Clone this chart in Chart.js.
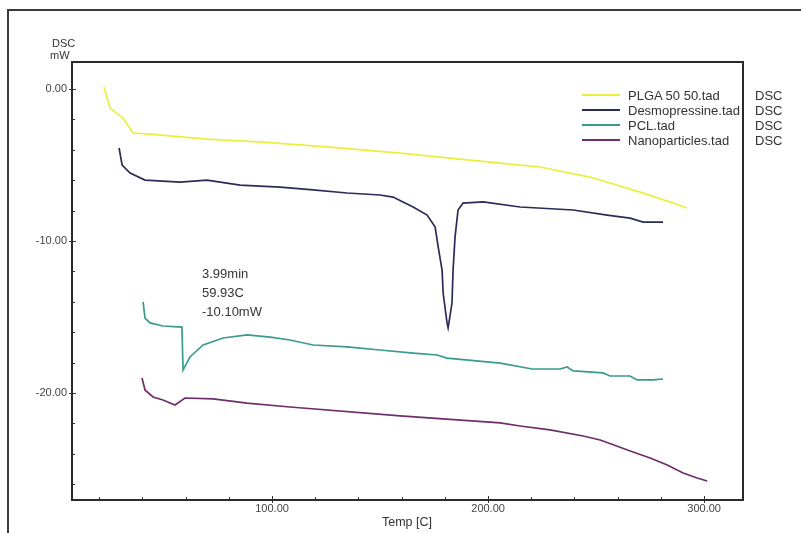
<!DOCTYPE html>
<html><head><meta charset="utf-8">
<script src="https://cdn.jsdelivr.net/npm/chart.js@4.4.1/dist/chart.umd.min.js"></script>
<style>
html,body{margin:0;padding:0;background:#fff;}
#wrap{position:relative;width:801px;height:533px;overflow:hidden;font-family:"Liberation Sans",Arial,sans-serif;color:#333;background:#fff;}
#frame{position:absolute;left:7px;top:9px;width:820px;height:560px;border-left:2px solid #3a3a3a;border-top:2px solid #3a3a3a;}
canvas{position:absolute;left:0;top:0;}
.t{position:absolute;white-space:nowrap;color:#333;}
.lg{position:absolute;height:2px;}
</style></head><body>
<div id="wrap">
<div id="frame"></div>
<canvas id="c" width="801" height="533"></canvas>
<div class="t" style="left:52px;top:37px;font-size:11px;line-height:12px">DSC</div>
<div class="t" style="left:50px;top:49px;font-size:11px;line-height:12px">mW</div>
<div class="t" style="left:382px;top:515px;font-size:12.5px;line-height:14px">Temp [C]</div>
<div id="anno"></div>
<div id="legend"></div>
</div>
<script>
// ---- data ----
const seriesNames = ["PLGA 50 50.tad", "Desmopressine.tad", "PCL.tad", "Nanoparticles.tad"];
const seriesUnit = "DSC";
const plgaT = [22.2, 25.0, 31.0, 35.6, 43.5, 69.9, 95.8, 126.9, 159.3, 187.0, 214.8, 224.1, 247.2, 270.4, 285.6, 292.1];
const plgaV = [0.13, -1.25, -1.91, -2.89, -2.96, -3.29, -3.49, -3.82, -4.21, -4.61, -5.0, -5.13, -5.79, -6.78, -7.5, -7.83];
const desmoT = [29.2, 30.6, 34.3, 41.2, 57.4, 69.9, 85.2, 103.7, 119.0, 134.7, 150.0, 156.0, 165.3, 171.8, 175.5, 176.9, 178.7, 179.2, 181.0, 181.5, 183.3, 183.8, 184.7, 186.1, 188.4, 197.7, 214.8, 239.4, 255.1, 265.7, 271.8, 281.0];
const desmoV = [-3.88, -5.0, -5.53, -5.99, -6.12, -5.99, -6.32, -6.45, -6.64, -6.84, -6.97, -7.11, -7.76, -8.29, -9.08, -10.39, -11.91, -13.42, -15.39, -15.72, -14.08, -11.91, -9.74, -7.96, -7.5, -7.43, -7.76, -7.96, -8.29, -8.49, -8.75, -8.75];
const pclT = [40.3, 41.2, 43.5, 49.5, 58.3, 58.8, 62.0, 68.1, 77.3, 88.4, 99.1, 108.3, 119.0, 134.7, 150.0, 165.3, 176.4, 181.0, 205.6, 220.4, 233.3, 236.6, 239.4, 253.2, 256.5, 265.7, 269.0, 276.4, 281.0];
const pclV = [-14.01, -15.07, -15.39, -15.59, -15.66, -18.49, -17.63, -16.84, -16.38, -16.18, -16.32, -16.51, -16.84, -16.97, -17.17, -17.37, -17.5, -17.7, -18.03, -18.42, -18.42, -18.29, -18.55, -18.68, -18.88, -18.88, -19.14, -19.14, -19.08];
const nanoT = [39.8, 41.2, 44.9, 49.5, 55.1, 59.7, 72.7, 88.4, 108.3, 159.3, 205.6, 214.8, 228.7, 244.0, 251.9, 267.1, 275.0, 282.9, 290.3, 296.8, 301.4];
const nanoV = [-19.01, -19.80, -20.26, -20.46, -20.79, -20.33, -20.39, -20.66, -20.92, -21.51, -21.97, -22.17, -22.43, -22.83, -23.09, -23.88, -24.28, -24.74, -25.26, -25.59, -25.79];
const xMajorTicks = [100, 200, 300];
const yMajorTicks = [0, -10, -20];
const xMinorTicks = [20, 40, 60, 80, 100, 120, 140, 160, 180, 200, 220, 240, 260, 280, 300];
const yMinorTicks = [0, -2, -4, -6, -8, -10, -12, -14, -16, -18, -20, -22, -24, -26];
const annotationLines = ["3.99min", "59.93C", "-10.10mW"];

// ---- styles ----
const colors = ["#eaef3c", "#2b2b58", "#3a9a8c", "#6e2d6c"];
const FONT = "'Liberation Sans', Arial, sans-serif";

function pts(xs, ys){ return xs.map((x,i)=>({x:x, y:ys[i]})); }
const seriesData = [pts(plgaT, plgaV), pts(desmoT, desmoV), pts(pclT, pclV), pts(nanoT, nanoV)];

const frameTicks = {
  id: 'frameTicks',
  afterDatasetsDraw(chart){
    const {ctx, chartArea:a, scales:{x, y}} = chart;
    ctx.save();
    ctx.strokeStyle = '#333';
    ctx.lineWidth = 1;
    ctx.beginPath();
    xMinorTicks.forEach(v=>{
      const p = Math.round(x.getPixelForValue(v)) + 0.5;
      const major = xMajorTicks.includes(v);
      ctx.moveTo(p, a.bottom + (major ? 3 : 0));
      ctx.lineTo(p, a.bottom - (major ? 4 : 3));
    });
    yMinorTicks.forEach(v=>{
      const p = Math.round(y.getPixelForValue(v)) + 0.5;
      const major = yMajorTicks.includes(v);
      ctx.moveTo(a.left - (major ? 3 : 0), p);
      ctx.lineTo(a.left + (major ? 4 : 3), p);
    });
    ctx.stroke();
    ctx.lineWidth = 2;
    ctx.strokeStyle = '#2a2a2a';
    ctx.strokeRect(a.left, a.top, a.right - a.left, a.bottom - a.top);
    ctx.restore();
  }
};

const chart = new Chart(document.getElementById('c'), {
  type: 'line',
  data: {
    datasets: seriesNames.map((n,i)=>({
      label: n, data: seriesData[i], borderColor: colors[i], backgroundColor: colors[i],
      borderWidth: 1.7, pointRadius: 0, tension: 0, fill: false
    }))
  },
  options: {
    responsive: false, animation: false, parsing: true,
    layout: { padding: { left: 0, top: 62, right: 58, bottom: 0 } },
    plugins: { legend: { display: false }, tooltip: { enabled: false } },
    scales: {
      x: {
        type: 'linear', min: 7.4, max: 318,
        afterBuildTicks: s => { s.ticks = xMajorTicks.map(v=>({value:v})); },
        afterFit: s => { s.height = 33; },
        ticks: { callback: v => Number(v).toFixed(2), font: {size: 11, family: FONT}, color: '#444', padding: 2, maxRotation: 0, autoSkip: false },
        grid: { display: false, drawTicks: false }, border: { display: false }
      },
      y: {
        type: 'linear', min: -27.04, max: 1.78,
        afterBuildTicks: s => { s.ticks = yMajorTicks.map(v=>({value:v})); },
        afterFit: s => { s.width = 72; },
        ticks: { callback: v => Number(v).toFixed(2), font: {size: 11, family: FONT}, color: '#444', padding: 5, autoSkip: false },
        grid: { display: false, drawTicks: false }, border: { display: false }
      }
    }
  },
  plugins: [frameTicks]
});

// annotation text
const anno = document.getElementById('anno');
annotationLines.forEach((s,i)=>{
  const d = document.createElement('div');
  d.className = 't'; d.textContent = s;
  d.style.fontSize = '13px'; d.style.lineHeight = '15px';
  d.style.left = '202px'; d.style.top = (266 + i*19) + 'px';
  anno.appendChild(d);
});

// legend built from datasets
const lg = document.getElementById('legend');
chart.data.datasets.forEach((ds,i)=>{
  const cy = 95 + i*15;
  const line = document.createElement('div');
  line.className = 'lg';
  line.style.left = '582px'; line.style.width = '38px'; line.style.top = (cy-1)+'px';
  line.style.background = ds.borderColor;
  lg.appendChild(line);
  const t = document.createElement('div');
  t.className = 't'; t.textContent = ds.label;
  t.style.fontSize = '13px'; t.style.lineHeight = '15px';
  t.style.left = '628px'; t.style.top = (cy-7)+'px';
  lg.appendChild(t);
  const u = document.createElement('div');
  u.className = 't'; u.textContent = seriesUnit;
  u.style.fontSize = '13px'; u.style.lineHeight = '15px';
  u.style.left = '755px'; u.style.top = (cy-7)+'px';
  lg.appendChild(u);
});
</script>
</body></html>
